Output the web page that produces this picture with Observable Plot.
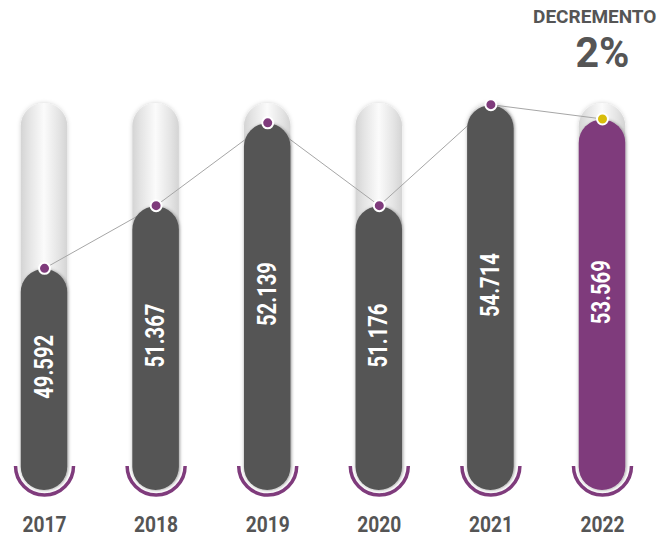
<!DOCTYPE html>
<html><head><meta charset="utf-8">
<script src="https://cdn.jsdelivr.net/npm/d3@7"></script>
<script src="https://cdn.jsdelivr.net/npm/@observablehq/plot@0.6"></script>
<style>body{margin:0;background:#fff}#chart{width:661px;height:536px}</style>
</head><body><div id="chart"></div>
<script>
// ---- data ----
const years  = ["2017", "2018", "2019", "2020", "2021", "2022"];
const values = [49592, 51367, 52139, 51176, 54714, 53569];
// visual fill level of each tube, in % of the tube height
const levels = [57.4, 73.6, 95.0, 73.6, 99.7, 96.0];
const highlight = "2022";
const headline = "DECREMENTO";
const change = "2%";

const GRAY = "#555555", PURPLE = "#7f3b7c", YELLOW = "#d8bd0a", TEXT = "#555555";
const data = years.map((year, i) => ({year, value: values[i], level: levels[i]}));
const fmt = d3.formatLocale({decimal: ",", thousands: ".", grouping: [3], currency: ["", ""]}).format(",");

const halfArc = {
  draw(ctx, size) {
    const r = Math.sqrt(size / Math.PI);
    ctx.moveTo(r, 0);
    ctx.arc(0, 0, r, 0, Math.PI);
  }
};

const R = 23.25;
const svg = Plot.plot({
  width: 661, height: 536,
  marginTop: 0, marginRight: 0, marginBottom: 0, marginLeft: 0,
  x: {type: "band", domain: years, range: [20.75, 625.25], paddingInner: 0.583, paddingOuter: 0, round: false, axis: null},
  y: {domain: [0, 100], range: [490, 103], axis: null},
  color: {type: "identity"},
  style: {fontFamily: "Roboto, 'Liberation Sans', sans-serif", background: "white", overflow: "visible"},
  marks: [
    Plot.barY(data, {x: "year", y1: 0, y2: 100, fill: "url(#tube)", rx: R}),
    Plot.line(data, {x: "year", y: "level", stroke: "#a6a6a6", strokeWidth: 1}),
    Plot.barY(data, {x: "year", y: "level", insetTop: 1, rx: R, fill: d => d.year === highlight ? PURPLE : GRAY}),
    Plot.dot(data, {x: "year", y: 0, dy: -24.5, r: 29, symbol: halfArc, fill: "none", stroke: PURPLE, strokeWidth: 3.5}),
    Plot.text(data, {x: "year", y: d => (d.level + 6.5) / 2, text: d => fmt(d.value), rotate: -90,
      fill: "white", fontSize: 25, fontWeight: "bold"}),
    Plot.dot(data, {x: "year", y: "level", r: 5.5, fill: d => d.year === highlight ? YELLOW : PURPLE, stroke: "white", strokeWidth: 2}),
    Plot.text(data, {x: "year", text: "year", frameAnchor: "bottom", lineAnchor: "bottom", dy: -5,
      fontSize: 22, fontWeight: "bold", fill: TEXT}),
    Plot.text([headline], {x: () => highlight, text: d => d, textAnchor: "end", frameAnchor: "top", lineAnchor: "bottom", dy: 22.5, dx: 54,
      fontSize: 19, fontWeight: "bold", fill: TEXT}),
    Plot.text([change], {x: () => highlight, text: d => d, frameAnchor: "top", lineAnchor: "bottom", dy: 66, dx: 0,
      fontSize: 43, fontWeight: "bold", fill: TEXT})
  ]
});

// defs: tube gradient and shadows
const s = d3.select(svg);
const defs = s.insert("defs", ":first-child");
const g = defs.append("linearGradient").attr("id", "tube").attr("x1", 0).attr("x2", 1).attr("y1", 0).attr("y2", 0);
[[0, "#d4d4d4"], [0.18, "#e4e4e4"], [0.5, "#fbfbfb"], [0.82, "#e4e4e4"], [1, "#d4d4d4"]]
  .forEach(([o, c]) => g.append("stop").attr("offset", o).attr("stop-color", c));
const f1 = defs.append("filter").attr("id", "tubeShadow").attr("x", "-50%").attr("y", "-10%").attr("width", "200%").attr("height", "120%");
f1.append("feDropShadow").attr("dx", 0).attr("dy", 0).attr("stdDeviation", 2.2).attr("flood-color", "#000").attr("flood-opacity", 0.18);
const f2 = defs.append("filter").attr("id", "barShadow").attr("x", "-50%").attr("y", "-10%").attr("width", "200%").attr("height", "120%");
f2.append("feDropShadow").attr("dx", 1).attr("dy", 0).attr("stdDeviation", 1.6).attr("flood-color", "#000").attr("flood-opacity", 0.3);
const barGroups = svg.querySelectorAll('g[aria-label="bar"]');
if (barGroups[0]) barGroups[0].setAttribute("filter", "url(#tubeShadow)");
if (barGroups[1]) barGroups[1].setAttribute("filter", "url(#barShadow)");

// condensed look for the bold labels
s.selectAll("text").each(function () {
  const t = this.textContent;
  let L = null;
  if (/^\d{2}\.\d{3}$/.test(t)) L = 64;
  else if (/^\d{4}$/.test(t)) L = 44;
  else if (t === change) L = 54;
  if (L) { this.setAttribute("textLength", L); this.setAttribute("lengthAdjust", "spacingAndGlyphs"); }
});

document.getElementById("chart").append(svg);
</script>
</body></html>
